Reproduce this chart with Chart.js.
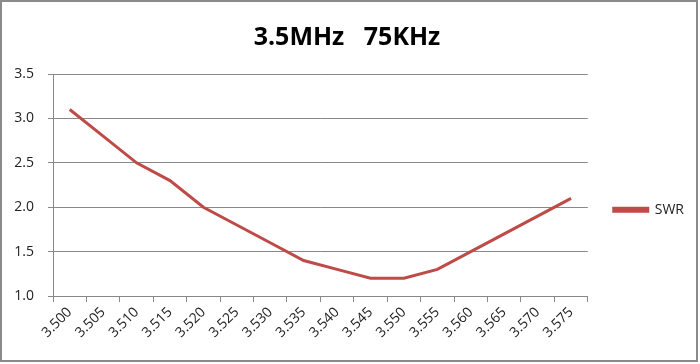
<!DOCTYPE html>
<html><head><meta charset="utf-8">
<script src="https://cdn.jsdelivr.net/npm/chart.js@4/dist/chart.umd.min.js"></script>
<style>html,body{margin:0;padding:0;background:#fff}#wrap{width:700px;height:364px;position:relative}</style>
</head><body><div id="wrap"><canvas id="c" width="700" height="364"></canvas></div>
<script>
const categories = ["3.500","3.505","3.510","3.515","3.520","3.525","3.530","3.535","3.540","3.545","3.550","3.555","3.560","3.565","3.570","3.575"];
const swrValues = [3.1,2.8,2.5,2.3,2.0,1.8,1.6,1.4,1.3,1.2,1.2,1.3,1.5,1.7,1.9,2.1];
const titleText = "3.5MHz   75KHz";
const seriesName = "SWR";

const borderPlugin = {
  id: 'frame',
  afterDraw(chart) {
    const ctx = chart.ctx;
    ctx.save();
    ctx.strokeStyle = '#8a8a8a';
    ctx.lineWidth = 2;
    ctx.strokeRect(1, 1, 696, 360);
    ctx.restore();
  }
};

new Chart(document.getElementById('c'), {
  type: 'line',
  data: {
    labels: categories,
    datasets: [{
      label: seriesName,
      data: swrValues,
      borderColor: '#BE4B48',
      backgroundColor: '#BE4B48',
      borderWidth: 3,
      pointRadius: 0,
      tension: 0,
      fill: false
    }]
  },
  options: {
    responsive: false,
    animation: false,
    layout: { padding: { left: 0, right: 6, top: 0, bottom: 0 } },
    plugins: {
      title: {
        display: true,
        text: titleText,
        color: '#000',
        font: { family: 'Open Sans', size: 25, weight: 'bold', lineHeight: 1.2 },
        padding: { top: 23, bottom: 21 }
      },
      legend: {
        display: true,
        position: 'right',
        title: { display: true, text: ' ', padding: { top: 40, bottom: 0 }, font: { size: 13 } },
        labels: {
          color: '#222',
          font: { family: 'Open Sans', size: 14 },
          boxWidth: 34,
          boxHeight: 3,
          padding: 26
        }
      },
      tooltip: { enabled: false }
    },
    scales: {
      x: {
        offset: true,
        grid: { display: true, drawOnChartArea: false, drawTicks: true, tickLength: 6, offset: true, color: '#888' },
        border: { display: true, color: '#888', width: 1 },
        ticks: { color: '#222', font: { family: 'Open Sans', size: 14 }, minRotation: 45, maxRotation: 45, autoSkip: false, padding: 2 },
        afterFit(s) { s.height = 68; }
      },
      y: {
        min: 1.0, max: 3.5,
        grid: { color: '#888', tickLength: 5, drawTicks: true },
        border: { display: true, color: '#888', width: 1 },
        ticks: { stepSize: 0.5, color: '#222', font: { family: 'Open Sans', size: 14 }, padding: 14, callback: v => Number(v).toFixed(1) },
        afterFit(s) { s.width = 53; }
      }
    }
  },
  plugins: [borderPlugin]
});
</script></body></html>
